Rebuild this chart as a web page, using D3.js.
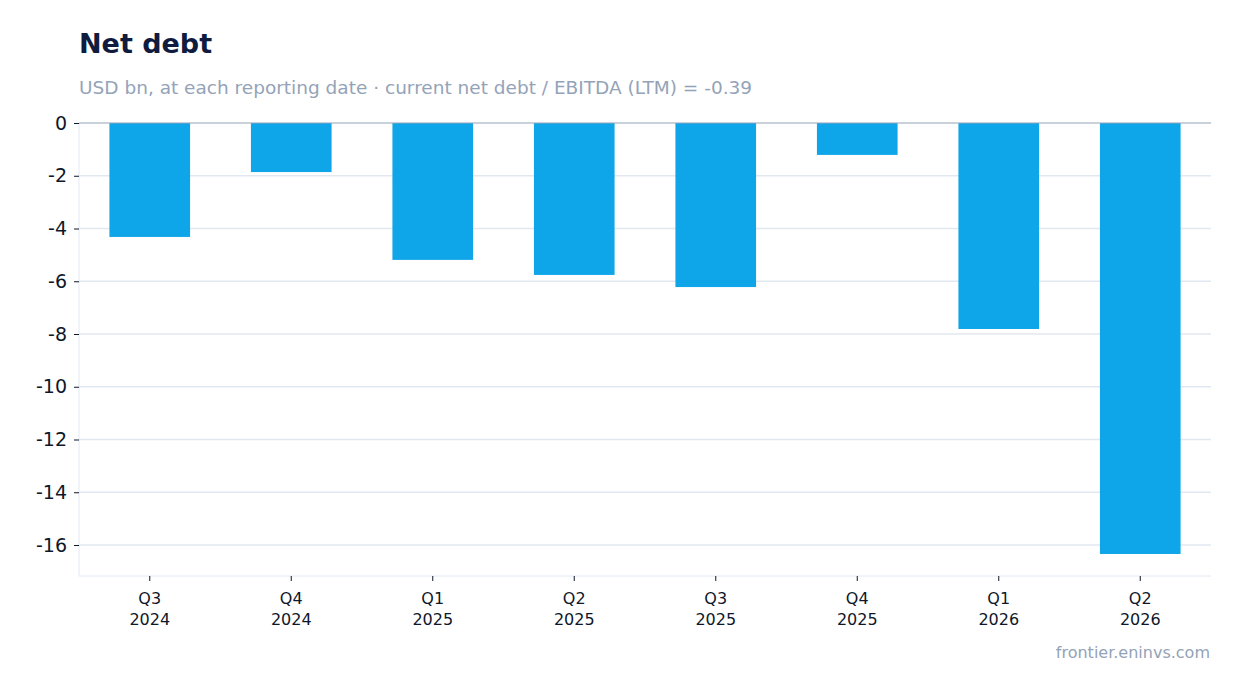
<!DOCTYPE html>
<html><head><meta charset="utf-8">
<script src="https://cdn.jsdelivr.net/npm/d3@7"></script>
<style>body{margin:0;background:#fff;font-family:"DejaVu Sans",sans-serif}</style>
</head><body><svg id="c" width="1241" height="693"></svg>
<script>
const quarters = ["Q3","Q4","Q1","Q2","Q3","Q4","Q1","Q2"];
const years = ["2024","2024","2025","2025","2025","2025","2026","2026"];
const values = [-4.32,-1.86,-5.19,-5.76,-6.22,-1.21,-7.81,-16.34];
const yTicks = [0,-2,-4,-6,-8,-10,-12,-14,-16];
const keys = quarters.map((q,i)=>q+" "+years[i]+"#"+i);

const svg = d3.select("#c");
const L=79,R=1211,T=123,B=576;
const x = d3.scaleBand().domain(keys).range([L,R]).paddingInner(0.43).paddingOuter(0.215);
const y = d3.scaleLinear().domain([0,-17.175]).range([T,B]);

svg.append("text").attr("x",79).attr("y",53).attr("font-size",27).attr("font-weight","bold").attr("fill","#0f1c3f").text("Net debt");
svg.append("text").attr("x",79).attr("y",94).attr("font-size",18.5).attr("fill","#94a3b8").text("USD bn, at each reporting date · current net debt / EBITDA (LTM) = -0.39");

svg.append("g").selectAll("line").data(yTicks.filter(d=>d!==0)).join("line")
  .attr("x1",L).attr("x2",R).attr("y1",d=>y(d)).attr("y2",d=>y(d)).attr("stroke","#e2e8f0").attr("stroke-width",1.5);
svg.append("line").attr("x1",L).attr("x2",L).attr("y1",T).attr("y2",B).attr("stroke","#e2e8f0");
svg.append("line").attr("x1",L).attr("x2",R).attr("y1",B).attr("y2",B).attr("stroke","#e2e8f0");

svg.append("g").selectAll("rect").data(values).join("rect")
  .attr("x",(d,i)=>x(keys[i])).attr("width",x.bandwidth())
  .attr("y",d=>y(Math.max(0,d))).attr("height",d=>Math.abs(y(d)-y(0)))
  .attr("fill","#0ea5e9");
svg.append("line").attr("x1",L).attr("x2",R).attr("y1",y(0)).attr("y2",y(0)).attr("stroke","#94a3b8");

const ya = svg.append("g").attr("transform",`translate(${L},0)`)
  .call(d3.axisLeft(y).tickValues(yTicks).tickSize(5).tickFormat(d=>d));
ya.select(".domain").remove();
ya.selectAll("line").attr("stroke","#0f172a");
ya.selectAll("text").attr("font-size",19).attr("fill","#0f172a").attr("font-family","DejaVu Sans").attr("x",-12);

const xa = svg.append("g").attr("transform",`translate(0,${B})`)
  .call(d3.axisBottom(x).tickSize(5).tickFormat(()=>""));
xa.select(".domain").remove();
xa.selectAll("line").attr("stroke","#0f172a");
xa.selectAll(".tick").each(function(d,i){
  const t=d3.select(this).append("text").attr("fill","#0f172a").attr("font-size",16).attr("text-anchor","middle").attr("font-family","DejaVu Sans");
  t.append("tspan").attr("x",0).attr("y",28).text(quarters[i]);
  t.append("tspan").attr("x",0).attr("y",49).text(years[i]);
});

svg.append("text").attr("x",1210).attr("y",658).attr("text-anchor","end").attr("font-size",16).attr("fill","#94a3b8").text("frontier.eninvs.com");
</script></body></html>
